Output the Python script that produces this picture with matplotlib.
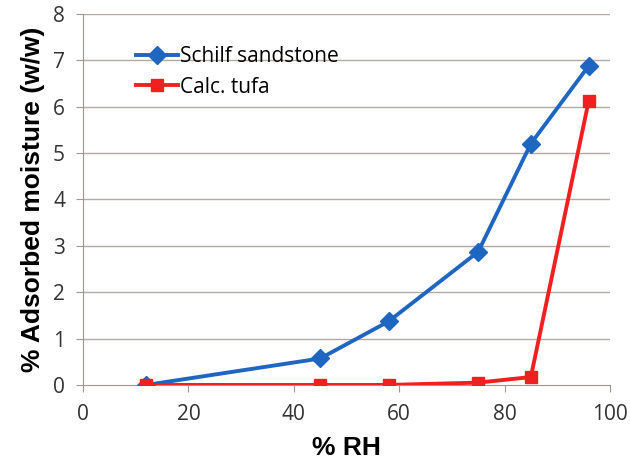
import matplotlib
matplotlib.use('Agg')
import matplotlib.pyplot as plt

# データ
rh = [12, 45, 58, 75, 85, 96]
schilf = [0.0, 0.57, 1.37, 2.87, 5.2, 6.88]
tufa = [0.0, 0.0, 0.0, 0.05, 0.17, 6.13]
xticks = [0, 20, 40, 60, 80, 100]
yticks = [0, 1, 2, 3, 4, 5, 6, 7, 8]

fig = plt.figure(figsize=(6.3, 4.61), dpi=100)
ax = fig.add_axes([0.132, 0.165, 0.836, 0.805])

grid_c = '#b5a9a3'
for y in yticks[1:]:
    ax.axhline(y, color=grid_c, lw=1.0, zorder=1)

ax.plot(rh, schilf, color='#1f66c1', lw=2.8, marker='D', ms=9,
        label='Schilf sandstone', zorder=3)
ax.plot(rh, tufa, color='#f02020', lw=2.8, marker='s', ms=9,
        label='Calc. tufa', zorder=4)

ax.set_xlim(0, 100)
ax.set_ylim(0, 8)
ax.set_xticks(xticks)
ax.set_yticks(yticks)
for s in ['top', 'right']:
    ax.spines[s].set_visible(False)
for s in ['left', 'bottom']:
    ax.spines[s].set_color('#a09890')
ax.tick_params(axis='both', colors='#a09890', labelcolor='#333333',
               labelsize=15, length=5, direction='out')
ax.tick_params(axis='x', pad=9)
ax.tick_params(axis='y', pad=8)
for lab in ax.get_xticklabels() + ax.get_yticklabels():
    lab.set_family('Open Sans')

ax.set_xlabel('% RH', fontsize=19, fontweight='bold', family='Liberation Sans',
              labelpad=8)
ax.set_ylabel('% Adsorbed moisture (w/w)', fontsize=19, fontweight='bold',
              family='Liberation Sans', labelpad=6)

leg = ax.legend(loc='upper left', bbox_to_anchor=(0.085, 0.935), frameon=False,
                prop={'family': 'Open Sans', 'size': 15}, handlelength=2.0,
                handletextpad=0.1, labelspacing=0.45, borderaxespad=0)

fig.savefig('out.png', dpi=100)
